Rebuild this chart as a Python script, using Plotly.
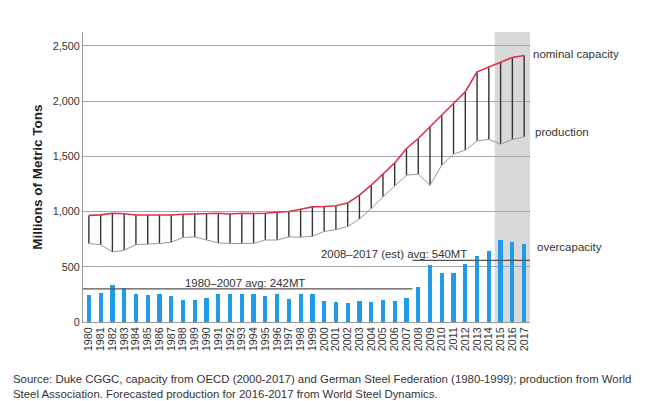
import plotly.graph_objects as go

years = list(range(1980, 2018))

capacity = [965, 970, 985, 980, 968, 968, 972, 968, 975, 980,
            985, 985, 978, 985, 982, 985, 995, 1000, 1020, 1042,
            1045, 1052, 1078, 1148, 1238, 1338, 1440, 1571, 1661, 1767,
            1873, 1972, 2084, 2265, 2310, 2356, 2395, 2413]

production = [710, 700, 634, 650, 700, 704, 710, 722, 765, 770,
              746, 716, 710, 712, 712, 742, 742, 770, 768, 776,
              820, 835, 865, 932, 1027, 1133, 1232, 1329, 1338, 1238,
              1420, 1520, 1556, 1640, 1652, 1610, 1652, 1676]

overcapacity = [248, 260, 332, 308, 254, 248, 254, 233, 200, 200,
                215, 254, 254, 257, 254, 233, 254, 206, 254, 254,
                192, 177, 173, 192, 177, 201, 190, 221, 317, 520,
                447, 442, 526, 601, 640, 740, 728, 710]

forecast_years = [2015, 2016, 2017]

avg_periods = [(1980, 2007), (2008, 2017)]
avg_labels = ["1980\u20132007 avg: 242MT", "2008\u20132017 (est) avg: 540MT"]
avg_line_levels = [300, 558]
avg_label_x = [1993.3, 2005.9]

y_ticks = [0, 500, 1000, 1500, 2000, 2500]
y_tick_text = ["0", "500", "1,000", "1,500", "2,000", "2,500"]

series_labels = ["nominal capacity", "production", "overcapacity"]

source_text = ("Source: Duke CGGC, capacity from OECD (2000-2017) and German Steel Federation (1980-1999); production from World<br>"
               "Steel Association. Forecasted production for 2016-2017 from World Steel Dynamics.")

FONT = "Liberation Sans, Arial, sans-serif"

fig = go.Figure()

# overcapacity bars
fig.add_trace(go.Bar(x=years, y=overcapacity, width=0.36,
                     marker=dict(color="#1E9BE9", line=dict(width=0)),
                     showlegend=False, hoverinfo="skip"))

# vertical hatch between production and capacity
hx, hy = [], []
for yr, p, c in zip(years, production, capacity):
    hx += [yr, yr, None]
    hy += [p, c, None]
fig.add_trace(go.Scatter(x=hx, y=hy, mode="lines",
                         line=dict(color="#333333", width=1.4),
                         showlegend=False, hoverinfo="skip"))

# production line
fig.add_trace(go.Scatter(x=years, y=production, mode="lines",
                         line=dict(color="#999999", width=1),
                         showlegend=False, hoverinfo="skip"))

# capacity line
fig.add_trace(go.Scatter(x=years, y=capacity, mode="lines",
                         line=dict(color="#E0304E", width=1.6),
                         showlegend=False, hoverinfo="skip"))

# average lines
for (a, b), lvl in zip(avg_periods, avg_line_levels):
    fig.add_trace(go.Scatter(x=[a - 0.5, b + 0.5], y=[lvl, lvl], mode="lines",
                             line=dict(color="#555555", width=1.4),
                             showlegend=False, hoverinfo="skip"))

shapes = [dict(type="rect", xref="x", yref="paper",
               x0=forecast_years[0] - 0.5, x1=forecast_years[-1] + 0.5,
               y0=0, y1=1, fillcolor="#D9D9D9", line=dict(width=0), layer="below")]

annotations = []
for lbl, xc, lvl in zip(avg_labels, avg_label_x, avg_line_levels):
    annotations.append(dict(x=xc, y=lvl, xref="x", yref="y",
                            text=lbl, showarrow=False, yanchor="bottom", yshift=-2,
                            font=dict(size=11.4, color="#333333", family=FONT)))

# right-side series labels
right_vals = [capacity[-1], production[-1], overcapacity[-1]]
right_shift = [1, 5, -3]
right_x = [1, 3, 5]
for lbl, v, ys, xs in zip(series_labels, right_vals, right_shift, right_x):
    annotations.append(dict(x=1, y=v, xref="paper", yref="y", text=lbl,
                            showarrow=False, xanchor="left", xshift=xs, yshift=ys,
                            font=dict(size=11.5, color="#333333", family=FONT)))

annotations.append(dict(x=0, y=0, xref="paper", yref="paper", xanchor="left", yanchor="top",
                        xshift=-72, yshift=-49, align="left", text=source_text,
                        showarrow=False,
                        font=dict(size=11.4, color="#333333", family=FONT)))

fig.update_layout(
    width=638, height=393,
    margin=dict(l=75, r=116, t=24, b=79, autoexpand=False),
    paper_bgcolor="white", plot_bgcolor="white",
    font=dict(family=FONT, color="#333333"),
    shapes=shapes, annotations=annotations,
    bargap=0, showlegend=False,
    xaxis=dict(range=[1979.5, 2017.5], tickmode="array", tickvals=years,
               ticktext=[str(y) for y in years], tickangle=-90,
               tickfont=dict(size=10.8, color="#333333", family=FONT),
               showgrid=False, showline=True, linecolor="#9a9a9a", linewidth=1,
               ticks="", zeroline=False, fixedrange=True),
    yaxis=dict(range=[0, 2625], tickmode="array", tickvals=y_ticks, ticktext=y_tick_text,
               tickfont=dict(size=10.8, color="#333333", family=FONT),
               showgrid=True, gridcolor="#A6A6A6", gridwidth=1,
               showline=True, linecolor="#9a9a9a", linewidth=1, zeroline=False,
               ticks="", ticklen=0,
               title=dict(text="<b>Millions of Metric Tons</b>", standoff=7,
                          font=dict(size=13.5, color="#222222", family=FONT)),
               fixedrange=True),
)

fig.write_html("out.html")
